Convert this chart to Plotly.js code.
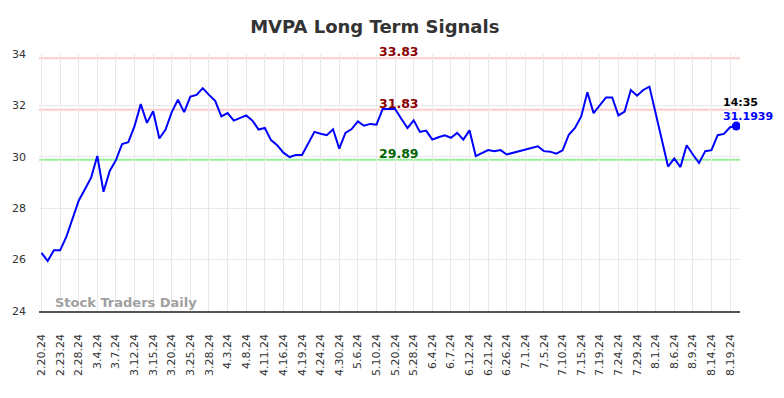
<!DOCTYPE html>
<html>
<head>
<meta charset="utf-8">
<script src="https://cdn.plot.ly/plotly-3.0.1.min.js"></script>
<style>html,body{margin:0;padding:0;background:#fff;}#chart{width:784px;height:398px;}</style>
</head>
<body>
<div id="chart"></div>
<script>
// Dates (categories)
const dates = [
"2.20.24","2.21.24","2.22.24","2.23.24","2.26.24","2.27.24","2.28.24","2.29.24","3.1.24","3.4.24",
"3.5.24","3.6.24","3.7.24","3.8.24","3.11.24","3.12.24","3.13.24","3.14.24","3.15.24","3.18.24",
"3.19.24","3.20.24","3.21.24","3.22.24","3.25.24","3.26.24","3.27.24","3.28.24","4.1.24","4.2.24",
"4.3.24","4.4.24","4.5.24","4.8.24","4.9.24","4.10.24","4.11.24","4.12.24","4.15.24","4.16.24",
"4.17.24","4.18.24","4.19.24","4.22.24","4.23.24","4.24.24","4.25.24","4.29.24","4.30.24","5.1.24",
"5.3.24","5.6.24","5.7.24","5.9.24","5.10.24","5.14.24","5.16.24","5.20.24","5.22.24","5.24.24",
"5.28.24","5.30.24","6.3.24","6.4.24","6.5.24","6.6.24","6.7.24","6.10.24","6.11.24","6.12.24",
"6.14.24","6.18.24","6.21.24","6.24.24","6.25.24","6.26.24","6.27.24","6.28.24","7.1.24","7.2.24",
"7.3.24","7.5.24","7.8.24","7.9.24","7.10.24","7.11.24","7.12.24","7.15.24","7.16.24","7.17.24",
"7.19.24","7.22.24","7.23.24","7.24.24","7.25.24","7.26.24","7.29.24","7.30.24","7.31.24","8.1.24",
"8.2.24","8.5.24","8.6.24","8.7.24","8.8.24","8.9.24","8.12.24","8.13.24","8.14.24","8.15.24",
"8.16.24","8.19.24","8.20.24"
];
// Closing prices
const prices = [
26.26,25.95,26.36,26.36,26.88,27.58,28.29,28.74,29.19,30.03,
28.64,29.45,29.87,30.50,30.57,31.19,32.05,31.32,31.77,30.71,
31.06,31.74,32.22,31.74,32.34,32.41,32.67,32.41,32.18,31.57,
31.70,31.41,31.51,31.61,31.41,31.06,31.12,30.65,30.45,30.16,
29.99,30.07,30.07,30.52,30.97,30.90,30.84,31.07,30.32,30.93,
31.08,31.38,31.21,31.28,31.25,31.86,31.87,31.86,31.48,31.12,
31.42,30.97,31.02,30.67,30.76,30.84,30.74,30.93,30.67,31.03,
30.03,30.16,30.26,30.22,30.26,30.09,30.16,30.22,30.29,30.35,
30.41,30.22,30.20,30.12,30.25,30.86,31.12,31.57,32.51,31.70,
32.00,32.31,32.31,31.61,31.76,32.60,32.38,32.60,32.73,31.75,
30.66,29.62,29.94,29.60,30.45,30.09,29.76,30.22,30.26,30.84,
30.89,31.15,31.1939
];
// Tick labels shown on the x axis
const tickLabels = [
"2.20.24","2.23.24","2.28.24","3.4.24","3.7.24","3.12.24","3.15.24","3.20.24","3.25.24","3.28.24",
"4.3.24","4.8.24","4.11.24","4.16.24","4.19.24","4.24.24","4.30.24","5.6.24","5.10.24","5.20.24",
"5.28.24","6.4.24","6.7.24","6.12.24","6.21.24","6.26.24","7.1.24","7.5.24","7.10.24","7.15.24",
"7.19.24","7.24.24","7.29.24","8.1.24","8.6.24","8.9.24","8.14.24","8.19.24"
];
// Signal levels
const resistanceLevels = [33.83, 31.83];
const supportLevels = [29.89];
const lastTime = "14:35";
const lastValue = 31.1939;

const levelFont = {family: "DejaVu Sans, sans-serif", size: 12.5};
const shapes = [];
const annotations = [];
resistanceLevels.forEach(v => {
  shapes.push({type: "line", xref: "paper", x0: 0, x1: 1, yref: "y", y0: v, y1: v,
    line: {color: "#ffcccc", width: 2}, layer: "below"});
  annotations.push({xref: "paper", x: 0.513, yref: "y", y: v, yanchor: "bottom", yshift: -3, showarrow: false,
    text: "<b>" + v.toFixed(2) + "</b>", font: Object.assign({color: "#8b0000"}, levelFont)});
});
supportLevels.forEach(v => {
  shapes.push({type: "line", xref: "paper", x0: 0, x1: 1, yref: "y", y0: v, y1: v,
    line: {color: "#99ee99", width: 2}, layer: "below"});
  annotations.push({xref: "paper", x: 0.513, yref: "y", y: v, yanchor: "bottom", yshift: -3, showarrow: false,
    text: "<b>" + v.toFixed(2) + "</b>", font: Object.assign({color: "#006400"}, levelFont)});
});
const lastX = dates[dates.length - 1];
annotations.push({xref: "x", x: lastX, yref: "y", y: lastValue, xanchor: "left", yanchor: "middle",
  xshift: -15, yshift: 24, showarrow: false, text: "<b>" + lastTime + "</b>",
  font: {family: "DejaVu Sans, sans-serif", size: 11, color: "#000"}});
annotations.push({xref: "x", x: lastX, yref: "y", y: lastValue, xanchor: "left", yanchor: "middle",
  xshift: -15, yshift: 10, showarrow: false, text: "<b>" + lastValue + "</b>",
  font: {family: "DejaVu Sans, sans-serif", size: 11, color: "#0000ff"}});
annotations.push({xref: "paper", x: 0.02, yref: "paper", y: 0.035, xanchor: "left", yanchor: "middle",
  showarrow: false, text: "<b>Stock Traders Daily</b>",
  font: {family: "DejaVu Sans, sans-serif", size: 13, color: "#a0a0a0"}});

const traces = [
  {x: dates, y: prices, type: "scatter", mode: "lines", line: {color: "#0000ff", width: 2}, hoverinfo: "skip"},
  {x: [lastX], y: [lastValue], type: "scatter", mode: "markers", marker: {color: "#0000ff", size: 9}, hoverinfo: "skip"}
];

const layout = {
  width: 784, height: 398,
  margin: {l: 39, r: 44, t: 54, b: 87},
  paper_bgcolor: "#fff", plot_bgcolor: "#fff",
  showlegend: false,
  title: {text: "<b>MVPA Long Term Signals</b>", x: 0.478, xanchor: "center", y: 0.932, yanchor: "middle",
    font: {family: "DejaVu Sans, sans-serif", size: 18, color: "#333"}},
  font: {family: "DejaVu Sans, sans-serif", size: 11, color: "#333"},
  xaxis: {type: "category", categoryorder: "array", categoryarray: dates,
    range: [-0.4, dates.length - 0.4],
    tickvals: tickLabels, ticktext: tickLabels, tickangle: -90,
    showgrid: true, gridcolor: "#e8e8e8", gridwidth: 1,
    showline: true, linecolor: "#555", linewidth: 1.5,
    ticks: "", ticklabelstandoff: 17, zeroline: false,
    tickfont: {family: "DejaVu Sans, sans-serif", size: 11, color: "#333"}},
  yaxis: {range: [24, 34], tickvals: [24, 26, 28, 30, 32, 34],
    showgrid: true, gridcolor: "#e8e8e8", gridwidth: 1,
    showline: false, zeroline: false, ticks: "", ticklabelstandoff: 12,
    tickfont: {family: "DejaVu Sans, sans-serif", size: 11, color: "#333"}},
  shapes: shapes,
  annotations: annotations
};
Plotly.newPlot("chart", traces, layout, {displayModeBar: false, staticPlot: true});
</script>
</body>
</html>
